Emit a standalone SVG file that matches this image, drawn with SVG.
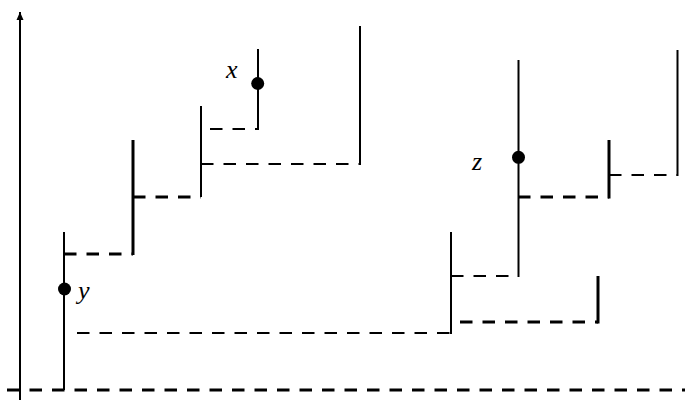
<svg xmlns="http://www.w3.org/2000/svg" width="685" height="401" viewBox="0 0 685 401">
<defs>
<style>
.v{stroke:#000;stroke-width:2;fill:none}
.vt{stroke:#000;stroke-width:3;fill:none}
.d{stroke:#000;stroke-width:2;stroke-dasharray:12.5 10;fill:none}
.dt{stroke:#000;stroke-width:3;stroke-dasharray:12.5 10;fill:none}
.lbl{font-family:"Liberation Serif",serif;font-style:italic;font-size:26px;fill:#000}
</style>
<marker id="ah" markerWidth="10" markerHeight="10" refX="8" refY="5" orient="auto" markerUnits="userSpaceOnUse">
<path d="M0,1.5 L8,5 L0,8.5 Z" fill="#000"/>
</marker>
</defs>
<g id="axes">
<line x1="20" y1="400" x2="20" y2="12" class="v" marker-end="url(#ah)"/>
<line x1="7" y1="390" x2="685" y2="390" class="dt"/>
</g>
<g id="connectors">
<line x1="64" y1="254" x2="133" y2="254" class="dt"/>
<line x1="133" y1="197" x2="201" y2="197" class="dt"/>
<line x1="210" y1="129" x2="258" y2="129" class="d"/>
<line x1="201" y1="164" x2="360" y2="164" class="d"/>
<line x1="77" y1="333" x2="451" y2="333" class="d"/>
<line x1="451" y1="276" x2="518" y2="276" class="d"/>
<line x1="460" y1="322" x2="598" y2="322" class="dt"/>
<line x1="518" y1="197" x2="609" y2="197" class="dt"/>
<line x1="609" y1="175" x2="677" y2="175" class="d"/>
</g>
<g id="node-y">
<line x1="64" y1="232" x2="64" y2="390" class="v"/>
<circle cx="64.5" cy="289" r="6.5"/>
<text x="78" y="299" class="lbl">y</text>
</g>
<g id="node-133"><line x1="133" y1="140" x2="133" y2="255" class="vt"/></g>
<g id="node-201"><line x1="201" y1="106" x2="201" y2="197" class="v"/></g>
<g id="node-x">
<line x1="258" y1="49" x2="258" y2="130" class="v"/>
<circle cx="257.7" cy="83.5" r="6.5"/>
<text x="226" y="78" class="lbl">x</text>
</g>
<g id="node-360"><line x1="360" y1="26" x2="360" y2="165" class="v"/></g>
<g id="node-451"><line x1="451" y1="232" x2="451" y2="334" class="v"/></g>
<g id="node-z">
<line x1="518.5" y1="60" x2="518.5" y2="277" class="v"/>
<circle cx="518.5" cy="157.3" r="6.5"/>
<text x="472" y="170" class="lbl">z</text>
</g>
<g id="node-598"><line x1="598" y1="276" x2="598" y2="323.5" class="vt"/></g>
<g id="node-609"><line x1="609" y1="140" x2="609" y2="198.5" class="vt"/></g>
<g id="node-677"><line x1="677.5" y1="50" x2="677.5" y2="176" class="v"/></g>
</svg>
